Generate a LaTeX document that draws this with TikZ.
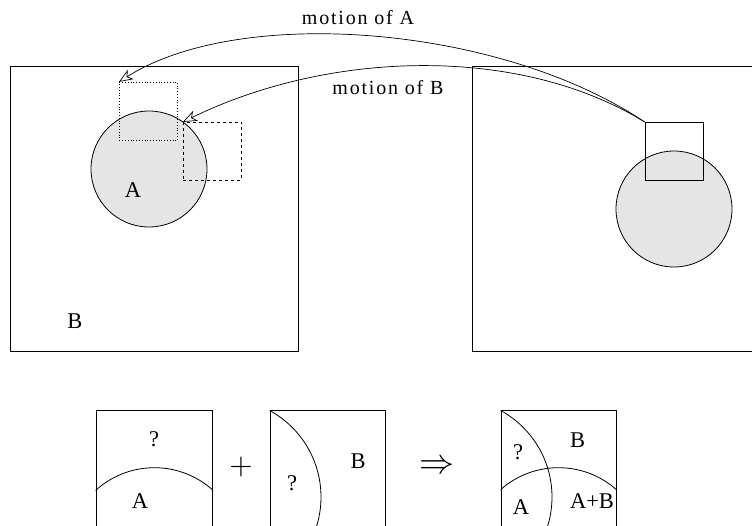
\documentclass[tikz,border=0pt]{standalone}
\usepackage{fontspec}
\setmainfont{Liberation Serif}
\usetikzlibrary{arrows.meta}
\begin{document}
\begin{tikzpicture}[x=1pt,y=-1pt,
  frame/.style={draw, line width=0.8pt, inner sep=0pt},
  disc/.style={draw, line width=0.8pt, circle, fill=gray!20, minimum size=116pt, inner sep=0pt},
  lbl/.style={inner sep=0pt, font=\fontsize{22.5}{22.5}\selectfont},
  mlbl/.style={inner sep=0pt, font=\fontsize{20}{20}\selectfont\addfontfeature{LetterSpace=9}},
  motion/.style={line width=0.7pt, -{Stealth[open, length=14pt, width=11pt, inset=4pt]}},
  arc/.style={line width=0.8pt}]
\clip (0,0) rectangle (752,525);
% big frames
\node[frame, minimum width=288pt, minimum height=285pt] (left) at (154,208.5) {};
\node[frame, minimum width=288pt, minimum height=285pt] (right) at (616,208.5) {};
% discs
\node[disc] (discA) at (149,169) {};
\node[disc] (discR) at (674,209) {};
% squares
\node[frame, dotted, minimum width=58.4pt, minimum height=57.7pt] (sqA) at (148.5,111.2) {};
\node[frame, dashed, minimum width=58.4pt, minimum height=57.7pt] (sqB) at (212.5,151.2) {};
\node[frame, minimum width=58.4pt, minimum height=57.7pt] (sqR) at (674.2,151.2) {};
% labels
\node[lbl] (labA) at (133,190) {A};
\node[lbl] (labB) at (75,321) {B};
\node[mlbl] (motA) at (358,18) {motion of A};
\node[mlbl] (motB) at (388,88) {motion of B};
% motion arrows
\draw[motion] (sqR.north west) .. controls (500,25) and (240,5) .. (sqA.north west);
\draw[motion] (sqR.north west) .. controls (520,45) and (330,50) .. (sqB.north west);
% bottom boxes
\node[frame, minimum width=116.7pt, minimum height=134pt] (b1) at (154.35,477.7) {};
\node[frame, minimum width=115.7pt, minimum height=134pt] (b2) at (327.85,477.7) {};
\node[frame, minimum width=115pt, minimum height=134pt] (b3) at (558.5,477.7) {};
\begin{scope}
  \clip (b1.north west) rectangle (b1.south east);
  \draw[arc] (154.4,555.1) circle[radius=87.4];
\end{scope}
\begin{scope}
  \clip (b2.north west) rectangle (b2.south east);
  \draw[arc] (222.5,497) circle[radius=98.5];
\end{scope}
\begin{scope}
  \clip (b3.north west) rectangle (b3.south east);
  \draw[arc] (558.5,555.1) circle[radius=87.4];
  \draw[arc] (453.5,497) circle[radius=98.5];
\end{scope}
\node[lbl] (q1) at (154,439) {?};
\node[lbl] (a1) at (140,501.5) {A};
\node[inner sep=0pt, scale=3] (plus) at (241,467) {$+$};
\node[lbl] (q2) at (292,483) {?};
\node[lbl] (bb2) at (358,461) {B};
\node[inner sep=0pt, scale=3.5] (impl) at (437,467) {$\Rightarrow$};
\node[lbl] (q3) at (518,452) {?};
\node[lbl] (bb3) at (577.5,440) {B};
\node[lbl] (a3) at (521,507) {A};
\node[lbl] (ab3) at (592,501.5) {A+B};
\end{tikzpicture}
\end{document}
